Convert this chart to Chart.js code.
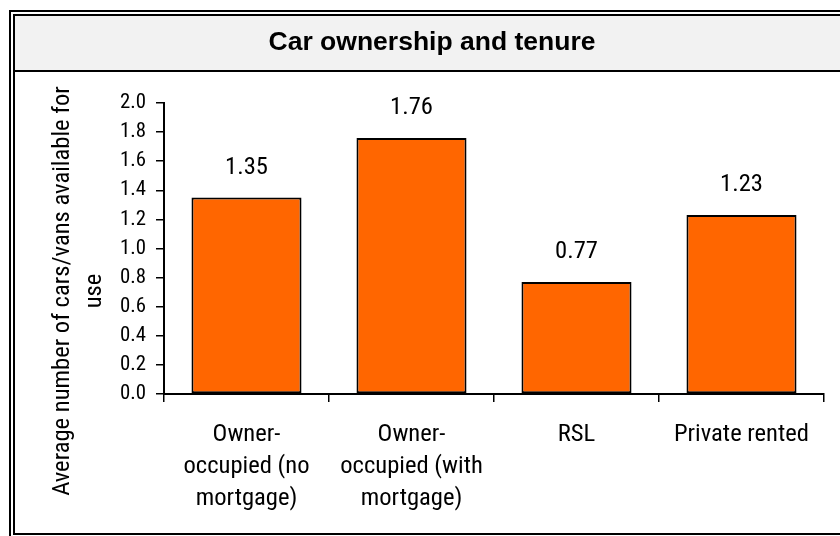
<!DOCTYPE html>
<html><head><meta charset="utf-8">
<style>html,body{margin:0;padding:0;background:#fff;overflow:hidden}#wrap{position:relative;width:840px;height:536px}</style>
<script src="https://cdn.jsdelivr.net/npm/chart.js@4.4.1/dist/chart.umd.min.js"></script>
</head><body><div id="wrap"><canvas id="c" width="840" height="536"></canvas></div>
<script>
const chartTitle = 'Car ownership and tenure';
const yAxisTitle = ['Average number of cars/vans available for', 'use'];
const categories = [['Owner-', 'occupied (no', 'mortgage)'], ['Owner-', 'occupied (with', 'mortgage)'], 'RSL', 'Private rented'];
const values = [1.35, 1.76, 0.77, 1.23];
const yMin = 0, yMax = 2.0, yStep = 0.2;

const mctx = document.createElement('canvas').getContext('2d');
function textW(font, s) { mctx.font = font; return mctx.measureText(s).width; }
function fontAvailable(f) {
  const s = 'abcdefghijklmnopqrstuvwxyz ABCDEFG 0123456789';
  return textW('40px monospace', s) !== textW('40px "' + f + '", monospace', s);
}
const candidates = ['Liberation Sans Narrow', 'Arial Narrow', 'Roboto Condensed', 'Nimbus Sans Narrow', 'Liberation Sans'];
let chosen = 'Liberation Sans';
for (const f of candidates) { if (fontAvailable(f)) { chosen = f; break; } }
const labelFamily = '"' + chosen + '", "Liberation Sans", Arial, sans-serif';
const labelSize = Math.round(135 * 100 / textW('100px ' + labelFamily, 'Private rented') * 10) / 10;
const tickSize = Math.round(26 * 100 / textW('100px ' + labelFamily, '2.0') * 10) / 10;
const baseFamily = '"Liberation Sans", Arial, sans-serif';

const framePlugin = {
  id: 'frame',
  beforeDraw(chart) {
    const ctx = chart.ctx;
    ctx.save();
    ctx.fillStyle = '#ffffff'; ctx.fillRect(0, 0, 840, 536);
    ctx.fillStyle = '#f2f2f2'; ctx.fillRect(15, 16, 825, 54);
    ctx.fillStyle = '#000000';
    ctx.fillRect(9, 10, 831, 2);
    ctx.fillRect(9, 10, 2, 526);
    ctx.fillRect(13, 14, 827, 2);
    ctx.fillRect(13, 14, 2, 521);
    ctx.fillRect(13, 70, 827, 2);
    ctx.fillRect(13, 533, 827, 2);
    ctx.font = 'bold 26.5px ' + baseFamily;
    ctx.textAlign = 'center';
    ctx.textBaseline = 'middle';
    ctx.fillText(chartTitle, 432, 43);
    ctx.restore();
  },
  afterDatasetsDraw(chart) {
    const ctx = chart.ctx;
    const meta = chart.getDatasetMeta(0);
    ctx.save();
    ctx.fillStyle = '#000';
    ctx.font = labelSize + 'px ' + labelFamily;
    ctx.textAlign = 'center';
    ctx.textBaseline = 'middle';
    meta.data.forEach((bar, i) => {
      ctx.fillText(values[i].toFixed(2), bar.x, bar.y - 30);
    });
    ctx.restore();
  },
  afterDraw(chart) {
    const ctx = chart.ctx;
    ctx.save();
    ctx.fillStyle = '#000';
    ctx.font = labelSize + 'px ' + labelFamily;
    ctx.textAlign = 'center';
    ctx.textBaseline = 'middle';
    const xs = [63, 95];
    yAxisTitle.forEach((t, i) => {
      ctx.save();
      ctx.translate(xs[i], 291);
      ctx.rotate(-Math.PI / 2);
      ctx.fillText(t, 0, 0);
      ctx.restore();
    });
    ctx.restore();
  }
};

new Chart(document.getElementById('c'), {
  type: 'bar',
  data: {
    labels: categories,
    datasets: [{
      data: values,
      backgroundColor: '#ff6600',
      borderColor: '#000000',
      borderWidth: 2,
      borderSkipped: false,
      barPercentage: 0.667,
      categoryPercentage: 1
    }]
  },
  options: {
    responsive: false,
    animation: false,
    devicePixelRatio: 1,
    layout: { padding: { left: 0, right: 16, top: 103, bottom: 0 } },
    plugins: {
      legend: { display: false },
      tooltip: { enabled: false },
      title: { display: false }
    },
    scales: {
      x: {
        offset: true,
        grid: { offset: true, drawOnChartArea: false, color: '#000', lineWidth: 1.5, tickLength: 8 },
        border: { color: '#000', width: 2 },
        ticks: { color: '#000', font: { family: labelFamily, size: labelSize, lineHeight: 32 / labelSize }, padding: 17, maxRotation: 0, autoSkip: false },
        afterFit(s) { s.height = 142; }
      },
      y: {
        min: yMin, max: yMax,
        ticks: { stepSize: yStep, color: '#000', font: { family: labelFamily, size: tickSize }, padding: 10, callback: v => Number(v).toFixed(1) },
        grid: { drawOnChartArea: false, color: '#000', lineWidth: 1.5, tickLength: 8 },
        border: { color: '#000', width: 2 },
        afterFit(s) { s.width = 164; }
      }
    }
  },
  plugins: [framePlugin]
});
</script>
</body></html>
